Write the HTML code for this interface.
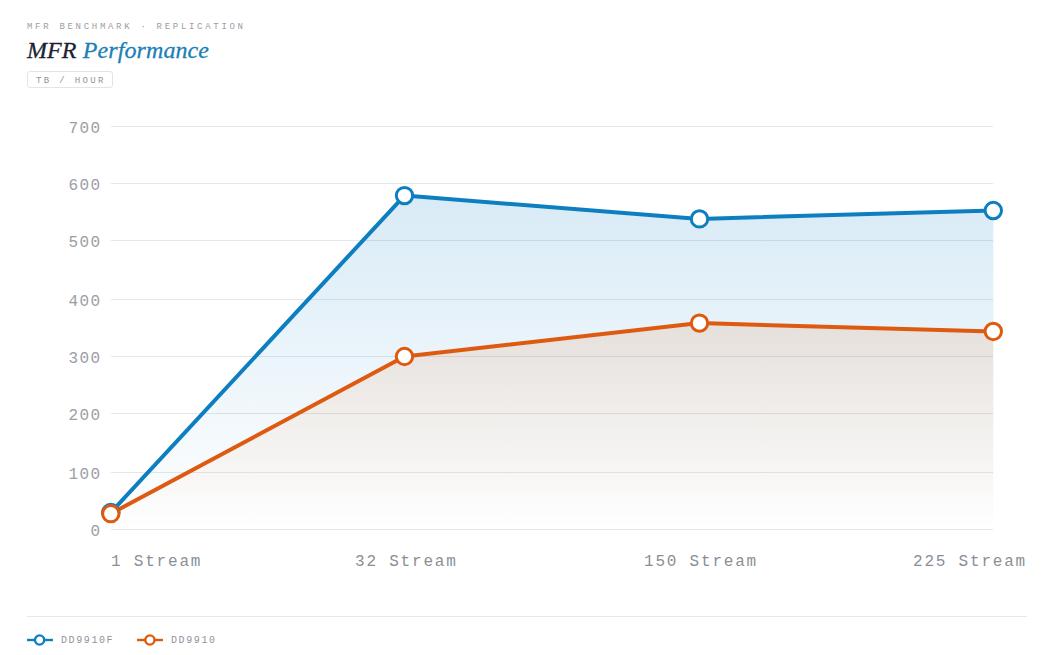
<!DOCTYPE html>
<html><head><meta charset="utf-8">
<style>
html,body{margin:0;padding:0;background:#fff;width:1054px;height:655px;overflow:hidden;position:relative}
.mono{font-family:"Liberation Mono",monospace}
.kicker{position:absolute;left:27px;top:21px;font-size:9px;letter-spacing:2.7px;color:#9a9ea5;white-space:nowrap;line-height:12px}
.title{position:absolute;left:27px;top:36px;font-family:"Liberation Serif",serif;font-style:italic;font-size:24px;letter-spacing:0.1px;line-height:28px;color:#1b2230;-webkit-text-stroke:0.3px currentColor;white-space:nowrap}
.title span{color:#1a80b6}
.badge{position:absolute;left:27px;top:71px;width:86px;height:17px;border:1px solid #e2e4e7;text-indent:2px;border-radius:3px;box-sizing:border-box;font-size:9px;letter-spacing:2.35px;color:#8f949b;line-height:19px;text-align:center;white-space:nowrap}
svg{position:absolute;left:0;top:0}
.yl{font-family:"Liberation Mono",monospace;font-size:16px;fill:#9a9ea6;letter-spacing:1.3px}
.xl{font-family:"Liberation Mono",monospace;font-size:16px;fill:#8a8f96;letter-spacing:1.8px}
.sep{position:absolute;left:27px;top:616px;width:1000px;height:1px;background:#e6e8eb}
.leg{position:absolute;top:634.5px;font-size:10px;letter-spacing:1.6px;color:#8f949b;line-height:12px;white-space:nowrap}
</style></head>
<body>
<div class="kicker mono">MFR BENCHMARK · REPLICATION</div>
<div class="title">MFR <span>Performance</span></div>
<div class="badge mono">TB / HOUR</div>

<svg width="1054" height="655" viewBox="0 0 1054 655">
<defs>
<linearGradient id="gb" x1="0" y1="0" x2="0" y2="1" gradientUnits="objectBoundingBox">
<stop offset="0" stop-color="#0d80c8" stop-opacity="0.16"/>
<stop offset="1" stop-color="#0d80c8" stop-opacity="0"/>
</linearGradient>
<linearGradient id="go" x1="0" y1="0" x2="0" y2="1">
<stop offset="0" stop-color="#dd600a" stop-opacity="0.125"/>
<stop offset="1" stop-color="#dd600a" stop-opacity="0"/>
</linearGradient>
</defs>
<g stroke="#e5e7ea" stroke-width="1">
<line x1="111" x2="993" y1="126.5" y2="126.5"/>
<line x1="111" x2="993" y1="183.5" y2="183.5"/>
<line x1="111" x2="993" y1="240.5" y2="240.5"/>
<line x1="111" x2="993" y1="299.5" y2="299.5"/>
<line x1="111" x2="993" y1="356.5" y2="356.5"/>
<line x1="111" x2="993" y1="413.5" y2="413.5"/>
<line x1="111" x2="993" y1="472.5" y2="472.5"/>
<line x1="111" x2="993" y1="529.5" y2="529.5"/>
</g>
<path d="M110.8,512.52 L404.5,195.59 L699.5,218.90 L993.3,210.55 L993.3,529.5 L110.8,529.5 Z" fill="url(#gb)"/>
<path d="M110.8,513.67 L404.5,356.50 L699.5,323.11 L993.3,331.45 L993.3,529.5 L110.8,529.5 Z" fill="url(#go)"/>
<polyline points="110.8,512.52 404.5,195.59 699.5,218.90 993.3,210.55" fill="none" stroke="#0d7fc0" stroke-width="4" stroke-linejoin="round"/>
<polyline points="110.8,513.67 404.5,356.50 699.5,323.11 993.3,331.45" fill="none" stroke="#dd5a10" stroke-width="4" stroke-linejoin="round"/>
<g fill="#fff" stroke="#0d7fc0" stroke-width="3">
<circle cx="110.8" cy="512.52" r="8.2"/><circle cx="404.5" cy="195.59" r="8.2"/><circle cx="699.5" cy="218.90" r="8.2"/><circle cx="993.3" cy="210.55" r="8.2"/>
</g>
<g fill="#fff" stroke="#dd5a10" stroke-width="3">
<circle cx="110.8" cy="513.67" r="8.2"/><circle cx="404.5" cy="356.50" r="8.2"/><circle cx="699.5" cy="323.11" r="8.2"/><circle cx="993.3" cy="331.45" r="8.2"/>
</g>
<g class="yl" text-anchor="end">
<text x="101.3" y="133.3">700</text>
<text x="101.3" y="190.3">600</text>
<text x="101.3" y="247.3">500</text>
<text x="101.3" y="306.3">400</text>
<text x="101.3" y="363.3">300</text>
<text x="101.3" y="420.3">200</text>
<text x="101.3" y="479.3">100</text>
<text x="101.3" y="536.3">0</text>
</g>
<g class="xl">
<text x="111" y="566">1 Stream</text>
<text x="355" y="566">32 Stream</text>
<text x="644" y="566">150 Stream</text>
<text x="913" y="566">225 Stream</text>
</g>
</svg>

<div class="sep"></div>
<svg width="26" height="14" style="left:27px;top:632.5px" viewBox="0 0 26 14"><line x1="0" y1="7" x2="26" y2="7" stroke="#0d7fc0" stroke-width="2.4"/><circle cx="12.6" cy="7" r="4.6" fill="#fff" stroke="#0d7fc0" stroke-width="2.4"/></svg>
<div class="leg mono" style="left:61px">DD9910F</div>
<svg width="26" height="14" style="left:137px;top:632.5px" viewBox="0 0 26 14"><line x1="0" y1="7" x2="26" y2="7" stroke="#dd5a10" stroke-width="2.4"/><circle cx="12.9" cy="7" r="4.6" fill="#fff" stroke="#dd5a10" stroke-width="2.4"/></svg>
<div class="leg mono" style="left:171px">DD9910</div>
</body></html>
